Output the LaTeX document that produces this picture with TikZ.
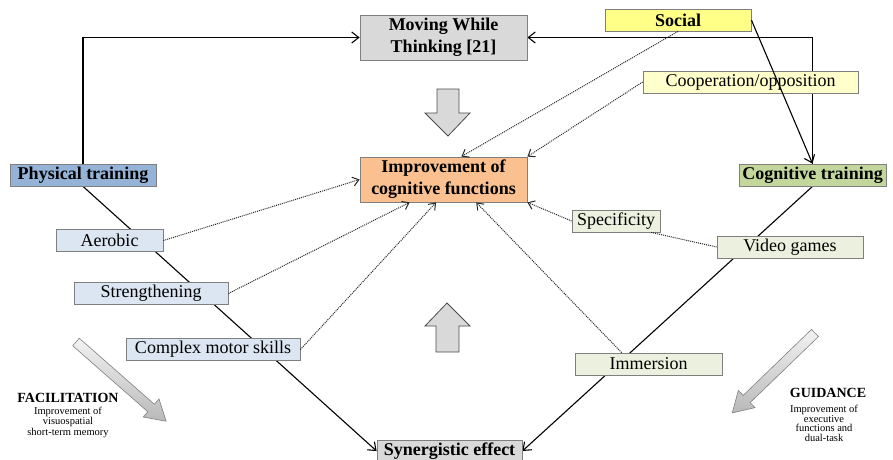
\documentclass[tikz,border=0pt]{standalone}
\usepackage{fontspec}
\setmainfont{Liberation Serif}
\usetikzlibrary{arrows.meta,backgrounds}
\definecolor{moveGray}{HTML}{D9D9D9}
\definecolor{borderGray}{HTML}{7F7F7F}
\definecolor{socialYellow}{HTML}{FFFF88}
\definecolor{coopYellow}{HTML}{FFFFCC}
\definecolor{physBlue}{HTML}{95B3D7}
\definecolor{cogGreen}{HTML}{C3D69B}
\definecolor{improveOrange}{HTML}{FAC090}
\definecolor{lightBlue}{HTML}{DCE6F2}
\definecolor{lightGreen}{HTML}{EBF1DE}
\begin{document}
\begin{tikzpicture}
[x=1pt,y=-1pt,%
  darkArrow/.style={-{Straight Barb[length=7pt,width=11pt]},line width=1.1pt},%
  dotArrow/.style={-{Straight Barb[length=6pt,width=9pt]},densely dotted,line width=1pt,color=black!85},%
  dotLine/.style={densely dotted,line width=1pt,color=black!85},%
  boxDecorate/.style={shape=rectangle,draw=borderGray,line width=0.8pt,inner sep=1pt,minimum height=22pt,font=\fontsize{18}{22}\selectfont},%
  boldBox/.style={boxDecorate,font=\fontsize{18}{22}\selectfont\bfseries,align=center},%
  blockArrow/.style={draw=black!70,line width=0.8pt,fill=moveGray},%
  slantArrow/.style={draw=gray,line width=0.6pt,top color=gray!10,bottom color=gray!55}]
\useasboundingbox (0,0) rectangle (893,459);
%% main boxes
\node (moving) at (443.5,37.5) [boldBox,fill=moveGray,minimum width=167pt,minimum height=45pt] {Moving While\\Thinking [21]};
\node (improvement) at (443.5,179.5) [boldBox,fill=improveOrange,minimum width=167pt,minimum height=45pt] {Improvement of\\cognitive functions};
\node (synergistic) at (449.5,451) [boldBox,fill=moveGray,minimum width=145pt] {Synergistic effect};
\node (physical) at (83,175) [boldBox,fill=physBlue,minimum width=146pt] {Physical training};
\node (cognitive) at (812.5,175) [boldBox,fill=cogGreen,minimum width=147pt] {Cognitive training};
\node (social) at (678,20) [boldBox,fill=socialYellow,minimum width=146pt] {Social};
\node (coop) at (750.5,82) [boxDecorate,fill=coopYellow,minimum width=215pt] {Cooperation/opposition};
%% physical and cognitive items
\foreach \nodename/\x/\y/\w/\txt in {aerobic/109.5/240.5/107/Aerobic,
  strengthening/151/293.5/154/Strengthening, complex/213/349.5/174/Complex motor skills}
{
  \node (\nodename) at (\x,\y) [boxDecorate,fill=lightBlue,minimum width=\w pt] {\txt};
}
\foreach \nodename/\x/\y/\w/\txt in {specificity/616/221/88/Specificity,
  video/790/247/146/Video games, immersion/648.5/364/147/Immersion}
{
  \node (\nodename) at (\x,\y) [boxDecorate,fill=lightGreen,minimum width=\w pt] {\txt};
}
%% side texts
\node (facilTitle) at (68,398) [font=\fontsize{14}{16}\selectfont\bfseries] {FACILITATION};
\node (facilText) at (68,422) [font=\fontsize{10.5}{9.5}\selectfont,align=center,inner sep=0pt] {Improvement of\\visuospatial\\short-term memory};
\node (guideTitle) at (828,393) [font=\fontsize{14}{16}\selectfont\bfseries] {GUIDANCE};
\node (guideText) at (824,423.5) [font=\fontsize{10.5}{9.5}\selectfont,align=center,inner sep=0pt] {Improvement of\\executive\\functions and\\dual-task};
%% dark lines behind the boxes
\begin{scope}[on background layer]
\draw[darkArrow] (physical.north) |- (moving.west);
\draw[darkArrow] (cognitive.north) |- (moving.east);
\draw[darkArrow] (physical.south) -- (synergistic.west);
\draw[darkArrow] (cognitive.south) -- (synergistic.east);
\end{scope}
\draw[darkArrow] (social.east) -- (cognitive.north);
%% dotted lines
\foreach \startnode/\endnode in {social.south/improvement.52, coop.west/improvement.north east,
  aerobic.east/improvement.west, strengthening.east/improvement.214,
  complex.east/improvement.252, immersion.157/improvement.325,
  specificity.west/improvement.south east}
{
  \draw[dotArrow] (\startnode) -- (\endnode);
}
\draw[dotLine] (video.west) -- (specificity.342);
%% block arrows
\path[blockArrow] (437,89) -- (459,89) -- (459,113) -- (470,113) -- (448,136) -- (425,113) -- (437,113) -- cycle;
\path[blockArrow] (436,352) -- (459,352) -- (459,326) -- (470,326) -- (447,303) -- (425,326) -- (436,326) -- cycle;
\begin{scope}[shift={(76,342)},rotate=-41.3]
\path[slantArrow] (0,-5) -- (100,-5) -- (100,-12) -- (120,0) -- (100,12) -- (100,5) -- (0,5) -- cycle;
\end{scope}
\begin{scope}[shift={(815,333)},rotate=-136]
\path[slantArrow] (0,-5) -- (95,-5) -- (95,-12) -- (115,0) -- (95,12) -- (95,5) -- (0,5) -- cycle;
\end{scope}
\end{tikzpicture}
\end{document}
